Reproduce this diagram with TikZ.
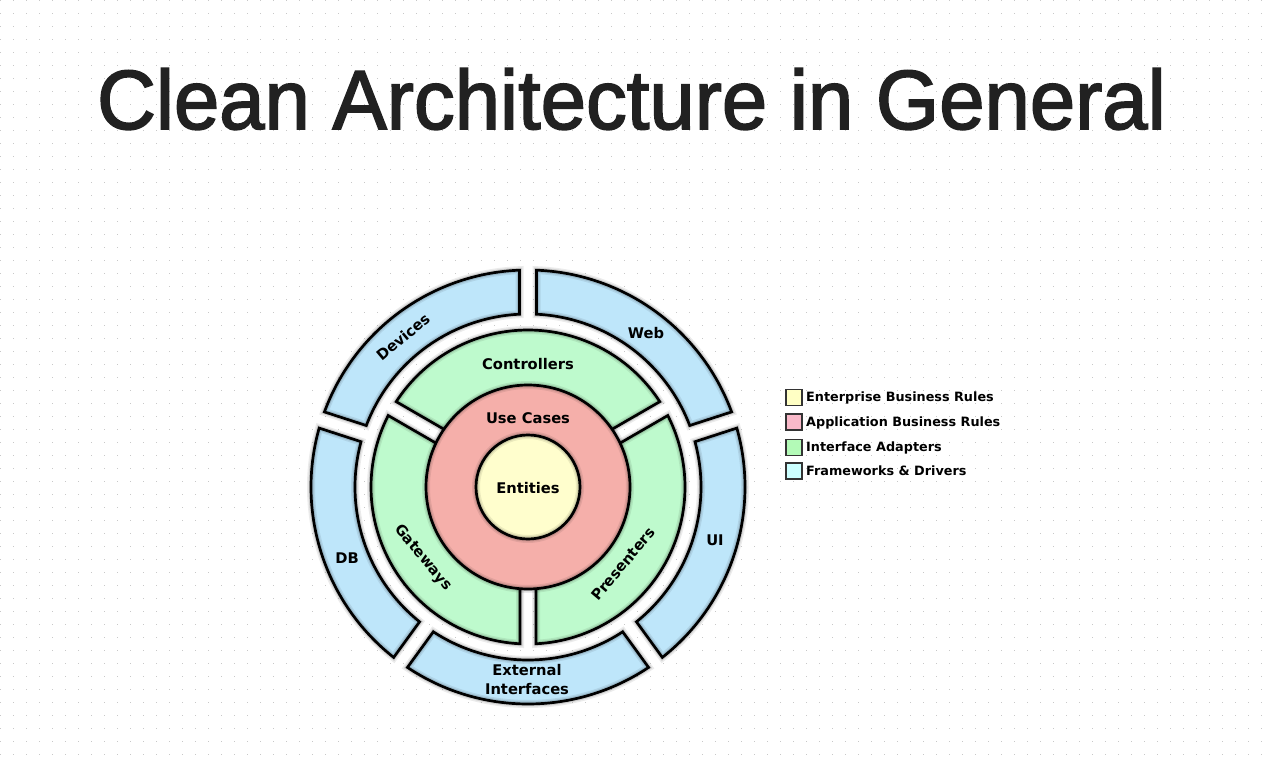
\documentclass[tikz,border=0pt]{standalone}
\usepackage{fontspec}
\setmainfont{Liberation Sans}
\newfontfamily\dejav{DejaVu Sans}
\newfontfamily\titlef{Liberation Sans}[FakeBold=2]
\usetikzlibrary{calc}
\definecolor{blueF}{RGB}{190,230,250}
\definecolor{greenF}{RGB}{190,250,205}
\definecolor{redF}{RGB}{245,175,170}
\definecolor{yellowF}{RGB}{255,254,205}
\definecolor{lgY}{RGB}{255,255,196}
\definecolor{lgR}{RGB}{249,185,201}
\definecolor{lgG}{RGB}{179,250,183}
\definecolor{lgC}{RGB}{204,255,255}
\definecolor{dotc}{RGB}{200,200,200}
\definecolor{titlec}{RGB}{33,33,33}
% annular segment with parallel-sided gaps
\newcommand{\annseg}[6]{%
  \pgfmathsetmacro\segoa{#1+asin(#5/#4)}%
  \pgfmathsetmacro\segob{#2-asin(#5/#4)}%
  \pgfmathsetmacro\segia{#1+asin(#5/#3)}%
  \pgfmathsetmacro\segib{#2-asin(#5/#3)}%
  \path[#6] ([shift={(\segoa:#4pt)}]ctr) arc[start angle=\segoa, end angle=\segob, radius=#4pt]
    -- ([shift={(\segib:#3pt)}]ctr) arc[start angle=\segib, end angle=\segia, radius=#3pt] -- cycle;
}
\tikzset{
  seg/.style={fill=#1,
    postaction={draw=black, draw opacity=0.08, line width=8pt},
    postaction={draw=black, draw opacity=0.12, line width=5pt},
    postaction={draw=black, line width=2.7pt, line join=miter}},
  lbl/.style={font=\dejav\bfseries\fontsize{14.7}{19}\selectfont, text height=10.7pt, text depth=0pt, inner sep=0pt, align=center},
  lgbox/.style={draw=black!80, line width=1.6pt, minimum size=16pt, inner sep=0pt},
  lgtxt/.style={font=\dejav\bfseries\fontsize{12.8}{14}\selectfont, inner sep=0pt, anchor=base west}
}
\begin{document}
\begin{tikzpicture}[x=1pt,y=1pt]
\useasboundingbox (0,0) rectangle (1268,-767);
\fill[white] (0,0) rectangle (1268,-767);
\foreach \j in {0,...,59} {
  \draw[dotc, line width=1.2pt, dash pattern=on 1.2pt off 11.8pt] (0,{-13*\j-0.6}) -- (1268,{-13*\j-0.6});
}
% title
\node[anchor=base, inner sep=0pt, text=titlec, font=\titlef\fontsize{84}{90}\selectfont, xscale=0.97] (title) at (631.5,-129) {Clean Architecture in General};

\coordinate (ctr) at (528,-487);
% outer ring: frameworks & drivers
\annseg{18}{90}{173}{217}{8.5}{seg=blueF}
\annseg{90}{162}{173}{217}{8.5}{seg=blueF}
\annseg{162}{234}{173}{217}{8.5}{seg=blueF}
\annseg{234}{306}{173}{217}{8.5}{seg=blueF}
\annseg{-54}{18}{173}{217}{8.5}{seg=blueF}
% interface adapters
\annseg{30}{150}{95}{157}{8}{seg=greenF}
\annseg{150}{270}{95}{157}{8}{seg=greenF}
\annseg{-90}{30}{95}{157}{8}{seg=greenF}
% use cases and entities
\path[seg=redF] (ctr) circle[radius=102pt];
\path[seg=yellowF] (ctr) circle[radius=52pt];

% labels
\node[lbl] (entities) at (528,-488) {Entities};
\node[lbl] (usecases) at (528,-418) {Use Cases};
\node[lbl] (controllers) at (528,-364) {Controllers};
\node[lbl, rotate=-50] (gateways) at (424,-557) {Gateways};
\node[lbl, rotate=50] (presenters) at (623,-564) {Presenters};
\node[lbl, rotate=40] (devices) at (403,-337) {Devices};
\node[lbl] (web) at (646,-333) {Web};
\node[lbl] (db) at (347,-558) {DB};
\node[lbl] (ui) at (715,-540) {UI};
\node[lbl] (external) at (527,-689) {External\\Interfaces};

% legend
\node[lgbox, fill=lgY] (lg1) at (794,-397.5) {};
\node[lgbox, fill=lgR] (lg2) at (794,-422) {};
\node[lgbox, fill=lgG] (lg3) at (794,-447.5) {};
\node[lgbox, fill=lgC] (lg4) at (794,-471) {};
\node[lgtxt] (lt1) at (806,-401) {Enterprise Business Rules};
\node[lgtxt] (lt2) at (806,-426) {Application Business Rules};
\node[lgtxt] (lt3) at (806,-451) {Interface Adapters};
\node[lgtxt] (lt4) at (806,-475) {Frameworks \& Drivers};
\end{tikzpicture}
\end{document}
